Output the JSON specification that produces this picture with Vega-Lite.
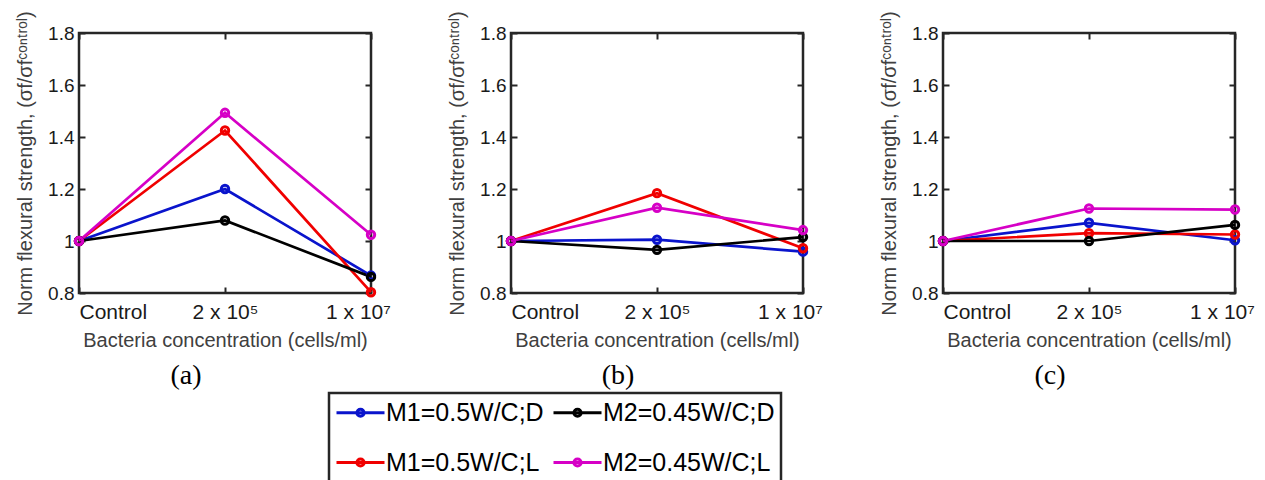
{
  "$schema": "https://vega.github.io/schema/vega-lite/v6.json",
  "padding": {"left": 14, "top": 9, "right": 5, "bottom": 0},
  "background": "white",
  "data": {"values": [
    {"panel": "a", "series": "M1=0.5W/C;D", "conc": "Control", "value": 1},
    {"panel": "a", "series": "M1=0.5W/C;D", "conc": "2 x 10⁵", "value": 1.2},
    {"panel": "a", "series": "M1=0.5W/C;D", "conc": "1 x 10⁷", "value": 0.867},
    {"panel": "a", "series": "M1=0.5W/C;L", "conc": "Control", "value": 1},
    {"panel": "a", "series": "M1=0.5W/C;L", "conc": "2 x 10⁵", "value": 1.425},
    {"panel": "a", "series": "M1=0.5W/C;L", "conc": "1 x 10⁷", "value": 0.803},
    {"panel": "a", "series": "M2=0.45W/C;D", "conc": "Control", "value": 1},
    {"panel": "a", "series": "M2=0.45W/C;D", "conc": "2 x 10⁵", "value": 1.079},
    {"panel": "a", "series": "M2=0.45W/C;D", "conc": "1 x 10⁷", "value": 0.862},
    {"panel": "a", "series": "M2=0.45W/C;L", "conc": "Control", "value": 1},
    {"panel": "a", "series": "M2=0.45W/C;L", "conc": "2 x 10⁵", "value": 1.493},
    {"panel": "a", "series": "M2=0.45W/C;L", "conc": "1 x 10⁷", "value": 1.024},
    {"panel": "b", "series": "M1=0.5W/C;D", "conc": "Control", "value": 1},
    {"panel": "b", "series": "M1=0.5W/C;D", "conc": "2 x 10⁵", "value": 1.005},
    {"panel": "b", "series": "M1=0.5W/C;D", "conc": "1 x 10⁷", "value": 0.959},
    {"panel": "b", "series": "M1=0.5W/C;L", "conc": "Control", "value": 1},
    {"panel": "b", "series": "M1=0.5W/C;L", "conc": "2 x 10⁵", "value": 1.184},
    {"panel": "b", "series": "M1=0.5W/C;L", "conc": "1 x 10⁷", "value": 0.972},
    {"panel": "b", "series": "M2=0.45W/C;D", "conc": "Control", "value": 1},
    {"panel": "b", "series": "M2=0.45W/C;D", "conc": "2 x 10⁵", "value": 0.966},
    {"panel": "b", "series": "M2=0.45W/C;D", "conc": "1 x 10⁷", "value": 1.015},
    {"panel": "b", "series": "M2=0.45W/C;L", "conc": "Control", "value": 1},
    {"panel": "b", "series": "M2=0.45W/C;L", "conc": "2 x 10⁵", "value": 1.128},
    {"panel": "b", "series": "M2=0.45W/C;L", "conc": "1 x 10⁷", "value": 1.042},
    {"panel": "c", "series": "M1=0.5W/C;D", "conc": "Control", "value": 1},
    {"panel": "c", "series": "M1=0.5W/C;D", "conc": "2 x 10⁵", "value": 1.07},
    {"panel": "c", "series": "M1=0.5W/C;D", "conc": "1 x 10⁷", "value": 1.003},
    {"panel": "c", "series": "M1=0.5W/C;L", "conc": "Control", "value": 1},
    {"panel": "c", "series": "M1=0.5W/C;L", "conc": "2 x 10⁵", "value": 1.03},
    {"panel": "c", "series": "M1=0.5W/C;L", "conc": "1 x 10⁷", "value": 1.025},
    {"panel": "c", "series": "M2=0.45W/C;D", "conc": "Control", "value": 1},
    {"panel": "c", "series": "M2=0.45W/C;D", "conc": "2 x 10⁵", "value": 1.0},
    {"panel": "c", "series": "M2=0.45W/C;D", "conc": "1 x 10⁷", "value": 1.062},
    {"panel": "c", "series": "M2=0.45W/C;L", "conc": "Control", "value": 1},
    {"panel": "c", "series": "M2=0.45W/C;L", "conc": "2 x 10⁵", "value": 1.125},
    {"panel": "c", "series": "M2=0.45W/C;L", "conc": "1 x 10⁷", "value": 1.121}
  ]},
  "spacing": 54,
  "hconcat": [
    {
      "width": 292, "height": 260,
      "title": {"text": "(a)"},
      "transform": [{"filter": "datum.panel == 'a'"}],
      "layer": [
        {"mark": {"type": "line", "strokeWidth": 2.7},
         "encoding": {
           "x": {"field": "conc", "type": "ordinal", "sort": ["Control", "2 x 10⁵", "1 x 10⁷"], "scale": {"type": "point", "padding": 0}, "axis": {"orient": "bottom", "title": "Bacteria concentration (cells/ml)"}},
           "y": {"field": "value", "type": "quantitative", "scale": {"domain": [0.8, 1.8], "nice": false, "zero": false}, "axis": {"orient": "left", "title": "Norm flexural strength, (σf/σfᶜᵒⁿᵗʳᵒˡ)"}},
           "color": {"field": "series", "type": "nominal", "scale": {"domain": ["M1=0.5W/C;D", "M2=0.45W/C;D", "M1=0.5W/C;L", "M2=0.45W/C;L"], "range": ["#0a14cc", "#000000", "#f00000", "#d600c6"]}, "legend": {"title": null}}
         }},
        {"mark": {"type": "point", "filled": false, "size": 55, "strokeWidth": 3, "opacity": 1},
         "encoding": {
           "x": {"field": "conc", "type": "ordinal", "sort": ["Control", "2 x 10⁵", "1 x 10⁷"], "scale": {"type": "point", "padding": 0}, "axis": {"orient": "top", "labels": false, "title": null}},
           "y": {"field": "value", "type": "quantitative", "scale": {"domain": [0.8, 1.8], "nice": false, "zero": false}, "axis": {"orient": "right", "labels": false, "title": null}},
           "color": {"field": "series", "type": "nominal", "legend": {"title": null}}
         }}
      ],
      "resolve": {"axis": {"x": "independent", "y": "independent"}}
    },
    {
      "width": 292, "height": 260,
      "title": {"text": "(b)"},
      "transform": [{"filter": "datum.panel == 'b'"}],
      "layer": [
        {"mark": {"type": "line", "strokeWidth": 2.7},
         "encoding": {
           "x": {"field": "conc", "type": "ordinal", "sort": ["Control", "2 x 10⁵", "1 x 10⁷"], "scale": {"type": "point", "padding": 0}, "axis": {"orient": "bottom", "title": "Bacteria concentration (cells/ml)"}},
           "y": {"field": "value", "type": "quantitative", "scale": {"domain": [0.8, 1.8], "nice": false, "zero": false}, "axis": {"orient": "left", "title": "Norm flexural strength, (σf/σfᶜᵒⁿᵗʳᵒˡ)"}},
           "color": {"field": "series", "type": "nominal", "legend": {"title": null}}
         }},
        {"mark": {"type": "point", "filled": false, "size": 55, "strokeWidth": 3, "opacity": 1},
         "encoding": {
           "x": {"field": "conc", "type": "ordinal", "sort": ["Control", "2 x 10⁵", "1 x 10⁷"], "scale": {"type": "point", "padding": 0}, "axis": {"orient": "top", "labels": false, "title": null}},
           "y": {"field": "value", "type": "quantitative", "scale": {"domain": [0.8, 1.8], "nice": false, "zero": false}, "axis": {"orient": "right", "labels": false, "title": null}},
           "color": {"field": "series", "type": "nominal", "legend": {"title": null}}
         }}
      ],
      "resolve": {"axis": {"x": "independent", "y": "independent"}}
    },
    {
      "width": 292, "height": 260,
      "title": {"text": "(c)"},
      "transform": [{"filter": "datum.panel == 'c'"}],
      "layer": [
        {"mark": {"type": "line", "strokeWidth": 2.7},
         "encoding": {
           "x": {"field": "conc", "type": "ordinal", "sort": ["Control", "2 x 10⁵", "1 x 10⁷"], "scale": {"type": "point", "padding": 0}, "axis": {"orient": "bottom", "title": "Bacteria concentration (cells/ml)"}},
           "y": {"field": "value", "type": "quantitative", "scale": {"domain": [0.8, 1.8], "nice": false, "zero": false}, "axis": {"orient": "left", "title": "Norm flexural strength, (σf/σfᶜᵒⁿᵗʳᵒˡ)"}},
           "color": {"field": "series", "type": "nominal", "legend": {"title": null}}
         }},
        {"mark": {"type": "point", "filled": false, "size": 55, "strokeWidth": 3, "opacity": 1},
         "encoding": {
           "x": {"field": "conc", "type": "ordinal", "sort": ["Control", "2 x 10⁵", "1 x 10⁷"], "scale": {"type": "point", "padding": 0}, "axis": {"orient": "top", "labels": false, "title": null}},
           "y": {"field": "value", "type": "quantitative", "scale": {"domain": [0.8, 1.8], "nice": false, "zero": false}, "axis": {"orient": "right", "labels": false, "title": null}},
           "color": {"field": "series", "type": "nominal", "legend": {"title": null}}
         }}
      ],
      "resolve": {"axis": {"x": "independent", "y": "independent"}}
    }
  ],
  "config": {
    "view": {"stroke": "#262626", "strokeWidth": 2.5},
    "title": {"orient": "bottom", "font": "Liberation Serif", "fontSize": 28, "fontWeight": "normal", "color": "#000000", "anchor": "middle", "offset": 12, "dx": -39},
    "axis": {"grid": false, "domain": false, "tickColor": "#262626", "tickWidth": 2, "tickSize": -6,
             "labelFont": "Liberation Sans", "labelColor": "#1a1a1a", "titleFont": "Liberation Sans", "titleFontWeight": "normal", "titleColor": "#404040"},
    "axisX": {"labelFontSize": 21, "titleFontSize": 20, "labelPadding": 14, "titlePadding": 8, "labelAngle": 0,
              "labelAlign": {"condition": {"test": "datum.value == 'Control'", "value": "left"}, "value": "center"},
              "labelOffset": {"condition": {"test": "datum.value == '1 x 10⁷'", "value": -13}, "value": 0}},
    "axisY": {"labelFontSize": 19, "titleFontSize": 20, "labelPadding": 11, "titlePadding": 12,
              "values": [0.8, 1, 1.2, 1.4, 1.6, 1.8], "format": ".1~f"},
    "legend": {"orient": "none", "legendX": 250, "legendY": 360, "columns": 2, "direction": "horizontal",
               "symbolType": "M-1,0H3M1.3,0A0.3,0.3,0,1,1,0.7,0A0.3,0.3,0,1,1,1.3,0",
               "symbolSize": 576, "symbolStrokeWidth": 3, "symbolFillColor": "transparent",
               "labelFont": "Liberation Sans", "labelFontSize": 25, "labelColor": "#000000", "labelOffset": 24, "labelLimit": 400,
               "columnPadding": 3, "rowPadding": 23, "padding": 6, "strokeColor": "#262626", "strokeWidth": 2.5}
  }
}
